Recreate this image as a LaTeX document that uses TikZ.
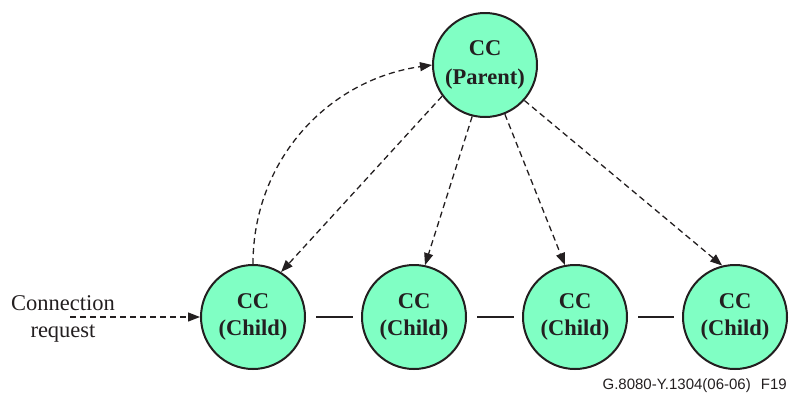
\documentclass[tikz,border=0pt]{standalone}
\usepackage{fontspec}
\setmainfont{Liberation Serif}
\newfontfamily\footfont{Liberation Sans}
\usetikzlibrary{arrows.meta}
\definecolor{ccfill}{RGB}{128,255,196}
\definecolor{ink}{RGB}{35,31,32}
\tikzset{
  ccnode/.style={circle, draw=ink, line width=2pt, fill=ccfill, minimum size=104pt, inner sep=0pt,
    align=center, font=\fontsize{22.5}{27.5}\selectfont\bfseries, text=ink},
  dasharrow/.style={draw=ink, line width=1.3pt, dash pattern=on 6pt off 4pt,
    -{Triangle[length=12pt,width=9pt]}},
  link/.style={draw=ink, line width=1.2pt}
}
\begin{document}
\begin{tikzpicture}[x=1pt,y=-1pt]
\useasboundingbox (0,0) rectangle (792,394);
\node[ccnode, font=\fontsize{22.5}{29}\selectfont\bfseries] (p) at (485,65) {CC\\(Parent)};
\node[ccnode] (c1) at (253,317) {CC\\(Child)};
\node[ccnode] (c2) at (414,317) {CC\\(Child)};
\node[ccnode] (c3) at (575,317) {CC\\(Child)};
\node[ccnode] (c4) at (735,317) {CC\\(Child)};
\node[align=center, font=\fontsize{22.5}{26.5}\selectfont, text=ink] (req) at (63,319) {Connection\\request};
\coordinate (reqs) at (70,317);
\draw[dasharrow] (reqs) -- (c1.west);
\draw[dasharrow] (c1.north) to[out=90,in=188] (p.west);
\draw[dasharrow] (p.216) -- (c1.58);
\draw[dasharrow] (p.256) -- (c2.78);
\draw[dasharrow] (p.292) -- (c3.101);
\draw[dasharrow] (p.318) -- (c4.104);
\draw[link] ([xshift=10pt]c1.east) -- ([xshift=-8pt]c2.west);
\draw[link] ([xshift=10pt]c2.east) -- ([xshift=-8pt]c3.west);
\draw[link] ([xshift=10pt]c3.east) -- ([xshift=-8pt]c4.west);
\node[anchor=base east, font=\footfont\fontsize{15}{18}\selectfont, text=ink, inner sep=0pt] (foot) at (787,389) {G.8080-Y.1304(06-06)\hspace{6pt} F19};
\end{tikzpicture}
\end{document}
